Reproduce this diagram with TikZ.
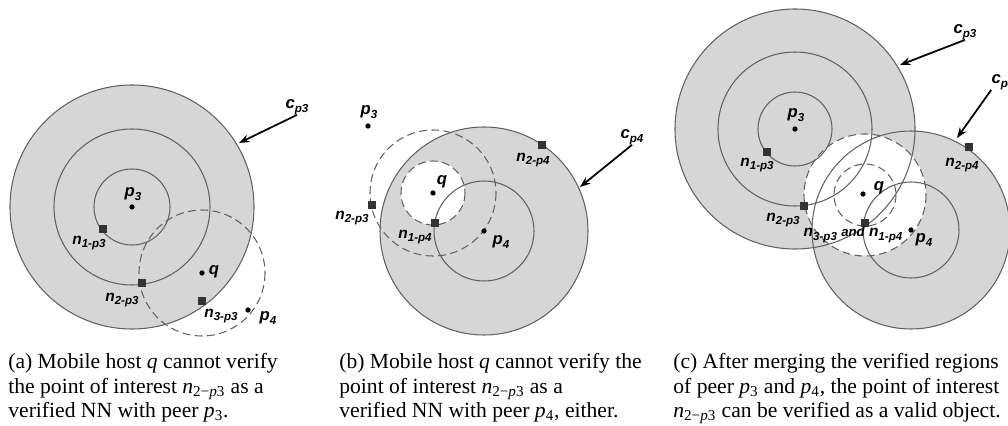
\documentclass[tikz,border=0pt]{standalone}
\usepackage{fontspec}
\setmainfont{Liberation Serif}
\newfontfamily\labfont{Liberation Sans}
\usetikzlibrary{arrows.meta}

\definecolor{regiongray}{gray}{0.84}
\definecolor{rimgray}{gray}{0.38}
\definecolor{poigray}{gray}{0.2}

% letter with a lowered index, as in the peer labels
\newcommand{\lbl}[2]{#1\raisebox{-0.22em}{\fontsize{6.6}{7}\selectfont #2}}
% same thing in the captions
\newcommand{\capsub}[2]{\textit{#1}\textsubscript{#2}}

\tikzset{
  rim/.style={draw=rimgray, line width=0.6pt},
  region/.style={rim, fill=regiongray},
  query/.style={draw=rimgray, line width=0.6pt, dash pattern=on 4.5pt off 2.5pt},
  dot/.style={circle, fill=black, inner sep=0pt, minimum size=3pt},
  poi/.style={rectangle, fill=poigray, inner sep=0pt, minimum size=4.2pt},
  lab/.style={font=\labfont\bfseries\itshape\fontsize{9.5}{11}\selectfont, inner sep=0pt},
  nlab/.style={font=\labfont\bfseries\itshape\fontsize{8.8}{10}\selectfont, inner sep=0pt},
  pointer/.style={-{Stealth[length=6pt,width=4.5pt]}, line width=1pt},
  caption/.style={anchor=north west, align=left, inner sep=0pt, font=\fontsize{12.3}{14}\selectfont}
}

\begin{document}
\begin{tikzpicture}[x=0.02cm, y=-0.02cm]
\useasboundingbox (0,0) rectangle (1008,426);

%Panel a: peer p3 alone
\draw[region] (132,207) circle (122);
\draw[rim] (132,207) circle (78);
\draw[rim] (132,207) circle (38);
\draw[query] (202,273) circle (63);

\node[dot] (ap3) at (132,207) {};
\node[dot] (aq) at (202,273) {};
\node[dot] (ap4) at (248,310) {};
\node[poi] (an1) at (103,229) {};
\node[poi] (an2) at (142,283) {};
\node[poi] (an3) at (202,301) {};

\node[lab] (ap3-l) at (133,194) {\lbl{p}{3}};
\node[lab] (aq-l) at (214,272) {q};
\node[lab] (ap4-l) at (268,318) {\lbl{p}{4}};
\node[nlab] (an1-l) at (89,243) {\lbl{n}{1-p3}};
\node[nlab] (an2-l) at (122,300) {\lbl{n}{2-p3}};
\node[nlab] (an3-l) at (221,316) {\lbl{n}{3-p3}};

\node[lab] (acp3) at (297,107) {\lbl{c}{p3}};
\coordinate (acp3-tip) at (239,143);
\draw[pointer] (acp3.south) -- (acp3-tip);

\node[caption] (capa) at (8,353) {(a) Mobile host \textit{q} cannot verify\\the point of interest \capsub{n}{2−\textit{p}3} as a\\verified NN with peer \capsub{p}{3}.};

%Panel b: peer p4 alone
\draw[region] (484,231) circle (104);
\draw[query, fill=white] (433,193) circle (32);
\draw[query] (433,193) circle (63);
\draw[rim] (484,231) circle (50);

\node[dot] (bp3) at (368,126) {};
\node[dot] (bq) at (433,193) {};
\node[dot] (bp4) at (484,231) {};
\node[poi] (bn1) at (435,223) {};
\node[poi] (bn2) at (542,145) {};
\node[poi] (bm2) at (372,205) {};

\node[lab] (bp3-l) at (369,112) {\lbl{p}{3}};
\node[lab] (bq-l) at (442,182) {q};
\node[lab] (bp4-l) at (501,242) {\lbl{p}{4}};
\node[nlab] (bn1-l) at (415,237) {\lbl{n}{1-p4}};
\node[nlab] (bn2-l) at (533,160) {\lbl{n}{2-p4}};
\node[nlab] (bm2-l) at (352,218) {\lbl{n}{2-p3}};

\node[lab] (bcp4) at (632,137) {\lbl{c}{p4}};
\coordinate (bcp4-tip) at (580,187);
\draw[pointer] (bcp4.south) -- (bcp4-tip);

\node[caption] (capb) at (339,353) {(b) Mobile host \textit{q} cannot verify the\\point of interest \capsub{n}{2−\textit{p}3} as a\\verified NN with peer \capsub{p}{4}, either.};

%Panel c: merged regions
\fill[regiongray] (795,129) circle (120);
\fill[regiongray] (911,230) circle (99);
\fill[white] (865,195) circle (61);
\foreach \r in {120, 77, 37}
  \draw[rim] (795,129) circle (\r);
\foreach \r in {99, 48}
  \draw[rim] (911,230) circle (\r);
\draw[query] (865,195) circle (61);
\draw[query] (865,195) circle (31);

\node[dot] (cp3) at (795,129) {};
\node[dot] (cq) at (863,194) {};
\node[dot] (cp4) at (911,230) {};
\node[poi] (cn1) at (767,152) {};
\node[poi] (cn2) at (804,206) {};
\node[poi] (cn3) at (865,223) {};
\node[poi] (cm2) at (969,147) {};

\node[lab] (cp3-l) at (796,115) {\lbl{p}{3}};
\node[lab] (cq-l) at (879,188) {q};
\node[lab] (cp4-l) at (924,240) {\lbl{p}{4}};
\node[nlab] (cn1-l) at (757,165) {\lbl{n}{1-p3}};
\node[nlab] (cn2-l) at (783,220) {\lbl{n}{2-p3}};
\node[nlab] (cn3-l) at (853,235) {\lbl{n}{3-p3} {\fontsize{7.5}{8}\selectfont and} \lbl{n}{1-p4}};
\node[nlab] (cm2-l) at (962,165) {\lbl{n}{2-p4}};

\node[lab] (ccp3) at (965,32) {\lbl{c}{p3}};
\coordinate (ccp3-tip) at (900,65);
\draw[pointer] (ccp3.south) -- (ccp3-tip);
\node[lab] (ccp4) at (1003,82) {\lbl{c}{p4}};
\coordinate (ccp4-tip) at (957,138);
\draw[pointer] (ccp4.south west) -- (ccp4-tip);

\node[caption] (capc) at (673,353) {(c) After merging the verified regions\\of peer \capsub{p}{3} and \capsub{p}{4}, the point of interest\\\capsub{n}{2−\textit{p}3} can be verified as a valid object.};

\end{tikzpicture}
\end{document}
